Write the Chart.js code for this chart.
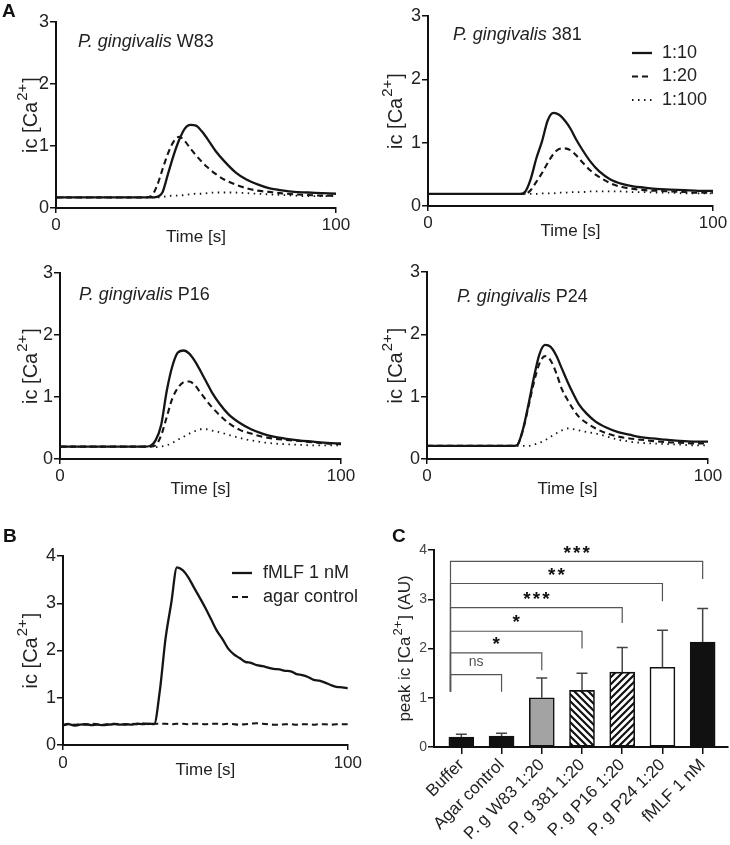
<!DOCTYPE html>
<html>
<head>
<meta charset="utf-8">
<script src="https://cdn.jsdelivr.net/npm/chart.js@4.4.1/dist/chart.umd.min.js"></script>
<style>
  body { margin: 0; background: #fff; }
  #fig { position: relative; width: 730px; height: 845px; }
  .panel { position: absolute; }
</style>
</head>
<body>
<div id="fig">
  <div class="panel" style="left:0;top:0;width:365px;height:250px"><canvas id="a1"></canvas></div>
  <div class="panel" style="left:365px;top:0;width:365px;height:250px"><canvas id="a2"></canvas></div>
  <div class="panel" style="left:0;top:250px;width:365px;height:260px"><canvas id="a3"></canvas></div>
  <div class="panel" style="left:365px;top:250px;width:365px;height:260px"><canvas id="a4"></canvas></div>
  <div class="panel" style="left:0;top:510px;width:365px;height:300px"><canvas id="b"></canvas></div>
  <div class="panel" style="left:365px;top:510px;width:365px;height:335px"><canvas id="c"></canvas></div>
</div>
<script>
const FONT = '"Liberation Sans", Arial, sans-serif';
Chart.defaults.font.family = FONT;
Chart.defaults.color = '#222';

// ---- panel A: time points (s) and ic[Ca2+] traces per dilution
const timeA = [0, 10, 20, 30, 32, 34, 36, 38, 40, 42, 44, 46, 48, 50, 52, 54, 57, 60, 64, 68, 72, 76, 80, 85, 90, 95, 100];
const dilutions = ['1:10', '1:20', '1:100'];

const w83_10  = [0.17,0.17,0.17,0.17,0.17,0.17,0.18,0.25,0.55,0.85,1.10,1.28,1.34,1.33,1.24,1.12,0.92,0.76,0.58,0.46,0.38,0.32,0.29,0.26,0.25,0.24,0.23];
const w83_20  = [0.17,0.17,0.17,0.17,0.17,0.19,0.35,0.62,0.88,1.07,1.15,1.08,0.96,0.85,0.75,0.66,0.55,0.46,0.38,0.32,0.28,0.26,0.24,0.22,0.21,0.20,0.20];
const w83_100 = [0.17,0.17,0.17,0.17,0.17,0.17,0.17,0.18,0.19,0.20,0.20,0.21,0.22,0.23,0.23,0.24,0.25,0.25,0.25,0.24,0.23,0.22,0.21,0.20,0.19,0.19,0.19];

const s381_10  = [0.19,0.19,0.19,0.19,0.19,0.22,0.42,0.75,1.02,1.35,1.47,1.44,1.35,1.22,1.05,0.90,0.70,0.55,0.42,0.35,0.31,0.29,0.27,0.26,0.25,0.24,0.24];
const s381_20  = [0.19,0.19,0.19,0.19,0.19,0.19,0.25,0.38,0.52,0.68,0.82,0.90,0.91,0.88,0.80,0.70,0.56,0.46,0.36,0.30,0.27,0.25,0.24,0.23,0.22,0.21,0.21];
const s381_100 = [0.19,0.19,0.19,0.19,0.19,0.19,0.19,0.19,0.20,0.20,0.20,0.21,0.21,0.22,0.22,0.22,0.23,0.23,0.23,0.23,0.22,0.22,0.21,0.21,0.20,0.20,0.20];

const p16_10  = [0.20,0.20,0.20,0.20,0.21,0.30,0.55,1.10,1.50,1.72,1.75,1.70,1.58,1.42,1.25,1.08,0.88,0.72,0.58,0.48,0.41,0.36,0.33,0.30,0.28,0.26,0.25];
const p16_20  = [0.20,0.20,0.20,0.20,0.20,0.22,0.38,0.68,0.98,1.15,1.24,1.25,1.19,1.07,0.95,0.84,0.70,0.58,0.47,0.41,0.36,0.33,0.31,0.29,0.27,0.25,0.24];
const p16_100 = [0.20,0.20,0.20,0.20,0.20,0.19,0.20,0.22,0.26,0.31,0.36,0.41,0.45,0.48,0.48,0.46,0.43,0.39,0.34,0.30,0.27,0.25,0.24,0.23,0.22,0.22,0.22];

const p24_10  = [0.21,0.21,0.21,0.21,0.22,0.45,0.85,1.30,1.68,1.83,1.80,1.66,1.45,1.24,1.05,0.88,0.72,0.60,0.50,0.43,0.39,0.35,0.33,0.31,0.29,0.28,0.28];
const p24_20  = [0.21,0.21,0.21,0.21,0.22,0.44,0.82,1.22,1.53,1.65,1.58,1.38,1.12,0.95,0.80,0.68,0.57,0.49,0.41,0.36,0.33,0.31,0.29,0.27,0.26,0.25,0.25];
const p24_100 = [0.21,0.21,0.21,0.21,0.21,0.21,0.21,0.23,0.26,0.30,0.36,0.41,0.46,0.49,0.48,0.46,0.43,0.41,0.36,0.31,0.28,0.26,0.25,0.24,0.23,0.22,0.22];

// ---- panel B: fMLF vs agar control
const timeB = [0,2,4,6,8,10,12,14,16,18,20,22,24,26,28,30,32,34,36,38,40,42,44,46,48,50,52,54,56,58,60,62,64,66,68,70,72,74,76,78,80,82,84,86,88,90,92,94,96,98,100];
const fmlf = [0.42,0.44,0.41,0.43,0.44,0.42,0.43,0.42,0.43,0.44,0.43,0.44,0.43,0.45,0.44,0.45,0.44,1.15,2.25,3.00,3.76,3.70,3.55,3.33,3.12,2.90,2.66,2.42,2.24,2.04,1.92,1.84,1.76,1.74,1.69,1.67,1.64,1.61,1.60,1.57,1.56,1.50,1.48,1.44,1.38,1.36,1.32,1.27,1.23,1.22,1.20];
const agar = [0.42,0.45,0.43,0.44,0.43,0.45,0.44,0.43,0.44,0.45,0.44,0.43,0.45,0.44,0.46,0.44,0.45,0.45,0.45,0.44,0.45,0.45,0.44,0.45,0.45,0.44,0.45,0.45,0.44,0.45,0.44,0.43,0.44,0.45,0.46,0.45,0.44,0.43,0.43,0.44,0.44,0.43,0.44,0.44,0.43,0.44,0.44,0.43,0.44,0.44,0.44];
const legendB = ['fMLF 1 nM', 'agar control'];

// ---- panel C: peak ic[Ca2+] (mean + SD) and significance brackets
const groups = ['Buffer', 'Agar control', 'P. g W83 1:20', 'P. g 381 1:20', 'P. g P16 1:20', 'P. g P24 1:20', 'fMLF 1 nM'];
const peakMean = [0.20, 0.22, 1.00, 1.15, 1.52, 1.62, 2.13];
const peakSD   = [0.06, 0.06, 0.40, 0.35, 0.50, 0.75, 0.68];
const bracketTo    = [1, 2, 3, 4, 5, 6];
const bracketLevel = [1.47, 1.91, 2.35, 2.83, 3.32, 3.77];
const bracketDrop  = [1.12, 1.56, 2.00, 2.52, 2.96, 3.41];
const bracketLabel = ['ns', '*', '*', '***', '**', '***'];
const bracketFoot = 1.12;
const bracketStart = -0.27;

const xTicksA = [0, 100];

function pts(t, v) { return t.map((x, i) => ({ x: x, y: v[i] })); }

function series(t, v, label, kind) {
  const st = {
    solid:  { borderWidth: 2.3, borderDash: [] },
    dashed: { borderWidth: 2.1, borderDash: [6, 4] },
    dotted: { borderWidth: 1.8, borderDash: [1.5, 4.5] }
  }[kind];
  return {
    label: label, data: pts(t, v), borderColor: '#151515', borderWidth: st.borderWidth,
    borderDash: st.borderDash, pointRadius: 0, fill: false, tension: 0.4,
    cubicInterpolationMode: 'monotone'
  };
}

function drawYTitle(ctx, cx, cy, pre, post, size) {
  ctx.save();
  ctx.translate(cx, cy);
  ctx.rotate(-Math.PI / 2);
  ctx.textBaseline = 'middle';
  ctx.textAlign = 'left';
  ctx.fillStyle = '#222';
  const big = size + 'px ' + FONT, small = Math.round(size * 0.75) + 'px ' + FONT;
  ctx.font = big;
  const w1 = ctx.measureText(pre).width, w3 = ctx.measureText(post).width;
  ctx.font = small;
  const w2 = ctx.measureText('2+').width;
  let x = -(w1 + w2 + w3 + 2) / 2;
  ctx.font = big; ctx.fillText(pre, x, 0); x += w1;
  ctx.font = small; ctx.fillText('2+', x + 1, -size * 0.4); x += w2 + 2;
  ctx.font = big; ctx.fillText(post, x, 0);
  ctx.restore();
}

// letters, panel titles, y titles and legends
const decor = {
  id: 'decor',
  afterDraw(chart, args, o) {
    const ctx = chart.ctx, a = chart.chartArea;
    ctx.save();
    ctx.fillStyle = '#111';
    ctx.textBaseline = 'middle';
    ctx.textAlign = 'left';
    if (o.letter) {
      ctx.font = 'bold 19px ' + FONT;
      ctx.fillText(o.letter[0], o.letter[1], o.letter[2]);
    }
    if (o.title) {
      let x = o.title.x;
      ctx.fillStyle = '#222';
      ctx.font = 'italic 18px ' + FONT;
      ctx.fillText('P. gingivalis', x, o.title.y);
      x += ctx.measureText('P. gingivalis ').width;
      ctx.font = '18px ' + FONT;
      ctx.fillText(o.title.strain, x, o.title.y);
    }
    if (o.yTitle) {
      drawYTitle(ctx, o.yTitle.x, (a.top + a.bottom) / 2, o.yTitle.pre, o.yTitle.post, o.yTitle.size);
    }
    if (o.legend) {
      const L = o.legend;
      chart.data.datasets.forEach((ds, i) => {
        const y = L.y + i * L.gap;
        ctx.strokeStyle = ds.borderColor;
        ctx.lineWidth = ds.borderWidth;
        ctx.setLineDash(ds.borderDash || []);
        ctx.beginPath(); ctx.moveTo(L.x, y); ctx.lineTo(L.x + L.len, y); ctx.stroke();
        ctx.setLineDash([]);
        ctx.fillStyle = '#222';
        ctx.font = L.size + 'px ' + FONT;
        ctx.fillText(ds.label, L.x + L.len + L.pad, y);
      });
    }
    ctx.restore();
  }
};
Chart.register(decor);

function lineOptions(p) {
  return {
    responsive: true, maintainAspectRatio: false, animation: false,
    layout: { padding: { left: 0, top: p.top, right: p.right, bottom: 0 } },
    plugins: { legend: { display: false }, tooltip: { enabled: false }, decor: p.decor },
    scales: {
      x: {
        type: 'linear', min: 0, max: 100,
        afterBuildTicks: s => { s.ticks = xTicksA.map(v => ({ value: v })); },
        afterFit: s => { s.height = p.xh; },
        border: { color: '#111', width: 2 },
        grid: { drawOnChartArea: false, color: '#111', lineWidth: 1.5, tickLength: 5 },
        ticks: { font: { size: 17 }, color: '#222', padding: p.xpad, maxRotation: 0 },
        title: { display: true, text: 'Time [s]', font: { size: 17 }, color: '#222', padding: { top: 0, bottom: p.tb } }
      },
      y: {
        min: 0, max: p.ymax,
        afterFit: s => { s.width = p.yw; },
        border: { color: '#111', width: 2 },
        grid: { drawOnChartArea: false, color: '#111', lineWidth: 1.5, tickLength: 6 },
        ticks: { stepSize: 1, font: { size: 18 }, color: '#222', padding: 1 }
      }
    }
  };
}

function panelA(id, strain, d10, d20, d100, p) {
  new Chart(document.getElementById(id), {
    type: 'line',
    data: { datasets: [
      series(timeA, d10, dilutions[0], 'solid'),
      series(timeA, d20, dilutions[1], 'dashed'),
      series(timeA, d100, dilutions[2], 'dotted')
    ] },
    options: lineOptions(Object.assign({ ymax: 3, xpad: 2 }, p, {
      decor: Object.assign({
        title: { x: p.tx, y: p.ty, strain: strain },
        yTitle: { x: 31, pre: 'ic [Ca', post: ']', size: 20 }
      }, p.extra || {})
    }))
  });
}

panelA('a1', 'W83', w83_10, w83_20, w83_100,
  { top: 22, right: 29, yw: 56, xh: 42, tb: 2, tx: 78, ty: 42, extra: { letter: ['A', 2, 12] } });
panelA('a2', '381', s381_10, s381_20, s381_100,
  { top: 16, right: 17, yw: 63, xh: 44, tb: 8, tx: 88, ty: 35,
    extra: { legend: { x: 267, y: 53, gap: 23.5, len: 20, pad: 10, size: 18 } } });
panelA('a3', 'P16', p16_10, p16_20, p16_100,
  { top: 23, right: 24, yw: 60, xh: 51, tb: 10, tx: 79, ty: 45 });
panelA('a4', 'P24', p24_10, p24_20, p24_100,
  { top: 22, right: 22, yw: 62, xh: 51, tb: 10, tx: 92, ty: 47 });

// panel B
new Chart(document.getElementById('b'), {
  type: 'line',
  data: { datasets: [
    Object.assign(series(timeB, fmlf, legendB[0], 'solid'), { tension: 0.2 }),
    Object.assign(series(timeB, agar, legendB[1], 'dashed'), { tension: 0.2 })
  ] },
  options: lineOptions({
    top: 46, right: 16, yw: 63, xh: 65, tb: 29, xpad: 3, ymax: 4,
    decor: {
      letter: ['B', 3, 27],
      yTitle: { x: 31, pre: 'ic [Ca', post: ']', size: 20 },
      legend: { x: 232, y: 63, gap: 24, len: 20, pad: 11, size: 18 }
    }
  })
});

// panel C
const cCtx = document.getElementById('c').getContext('2d');
function hatch(dir) {
  const s = 7, tile = document.createElement('canvas');
  tile.width = s; tile.height = s;
  const g = tile.getContext('2d');
  g.fillStyle = '#fff'; g.fillRect(0, 0, s, s);
  g.strokeStyle = '#111'; g.lineWidth = 2.2;
  g.beginPath();
  if (dir > 0) {
    g.moveTo(-1, s + 1); g.lineTo(s + 1, -1);
    g.moveTo(-1, 1); g.lineTo(1, -1);
    g.moveTo(s - 1, s + 1); g.lineTo(s + 1, s - 1);
  } else {
    g.moveTo(-1, -1); g.lineTo(s + 1, s + 1);
    g.moveTo(s - 1, -1); g.lineTo(s + 1, 1);
    g.moveTo(-1, s - 1); g.lineTo(1, s + 1);
  }
  g.stroke();
  return cCtx.createPattern(tile, 'repeat');
}
const barFills = ['#111', '#111', '#a3a3a3', hatch(-1), hatch(1), '#fff', '#111'];

const cExtras = {
  id: 'cExtras',
  afterDatasetsDraw(chart) {
    const ctx = chart.ctx, xs = chart.scales.x, ys = chart.scales.y;
    ctx.save();
    // error bars (upper only)
    ctx.strokeStyle = '#444'; ctx.lineWidth = 1.5;
    peakMean.forEach((m, i) => {
      const x = xs.getPixelForValue(i), y0 = ys.getPixelForValue(m), y1 = ys.getPixelForValue(m + peakSD[i]);
      ctx.beginPath();
      ctx.moveTo(x, y0); ctx.lineTo(x, y1);
      ctx.moveTo(x - 5.5, y1); ctx.lineTo(x + 5.5, y1);
      ctx.stroke();
    });
    // brackets vs buffer
    ctx.strokeStyle = '#555'; ctx.lineWidth = 1.2;
    const xl = xs.getPixelForValue(bracketStart);
    bracketTo.forEach((j, k) => {
      const xr = xs.getPixelForValue(j), yl = ys.getPixelForValue(bracketLevel[k]);
      ctx.beginPath();
      ctx.moveTo(xl, ys.getPixelForValue(bracketFoot));
      ctx.lineTo(xl, yl); ctx.lineTo(xr, yl);
      ctx.lineTo(xr, ys.getPixelForValue(bracketDrop[k]));
      ctx.stroke();
      const cx = (xl + xr) / 2, cy = yl - 12;
      ctx.textAlign = 'center'; ctx.textBaseline = 'middle';
      if (bracketLabel[k] === 'ns') {
        ctx.fillStyle = '#555'; ctx.font = '14px ' + FONT;
        ctx.fillText('ns', cx, cy);
      } else {
        ctx.fillStyle = '#111'; ctx.font = 'bold 19px ' + FONT;
        const n = bracketLabel[k].length, step = 9.5;
        for (let q = 0; q < n; q++) ctx.fillText('*', cx + (q - (n - 1) / 2) * step, cy + 4);
      }
    });
    ctx.restore();
  }
};

new Chart(cCtx, {
  type: 'bar',
  data: { datasets: [{
    data: peakMean.map((v, i) => ({ x: i, y: v })),
    backgroundColor: barFills, borderColor: '#111', borderWidth: 1.6,
    barThickness: 25, borderSkipped: false
  }] },
  options: {
    responsive: true, maintainAspectRatio: false, animation: false,
    layout: { padding: { left: 0, top: 40, right: 2, bottom: 0 } },
    plugins: { legend: { display: false }, tooltip: { enabled: false },
      decor: { letter: ['C', 27, 27], yTitle: { x: 40, pre: 'peak ic [Ca', post: '] (AU)', size: 17 } } },
    scales: {
      x: {
        type: 'linear', min: -0.68, max: 6.63, offset: false,
        afterBuildTicks: s => { s.ticks = groups.map((g, i) => ({ value: i })); },
        afterFit: s => { s.height = 98; },
        border: { color: '#111', width: 2 },
        grid: { offset: false, drawOnChartArea: false, color: '#111', lineWidth: 1.5, tickLength: 7 },
        ticks: { callback: v => groups[v], autoSkip: false, minRotation: 45, maxRotation: 45,
                 font: { size: 17 }, color: '#222', padding: 1 }
      },
      y: {
        min: 0, max: 4,
        afterFit: s => { s.width = 69; },
        border: { color: '#111', width: 2 },
        grid: { drawOnChartArea: false, color: '#111', lineWidth: 1.5, tickLength: 6 },
        ticks: { stepSize: 1, font: { size: 14 }, color: '#444', padding: 1 }
      }
    }
  },
  plugins: [cExtras]
});
</script>
</body>
</html>
